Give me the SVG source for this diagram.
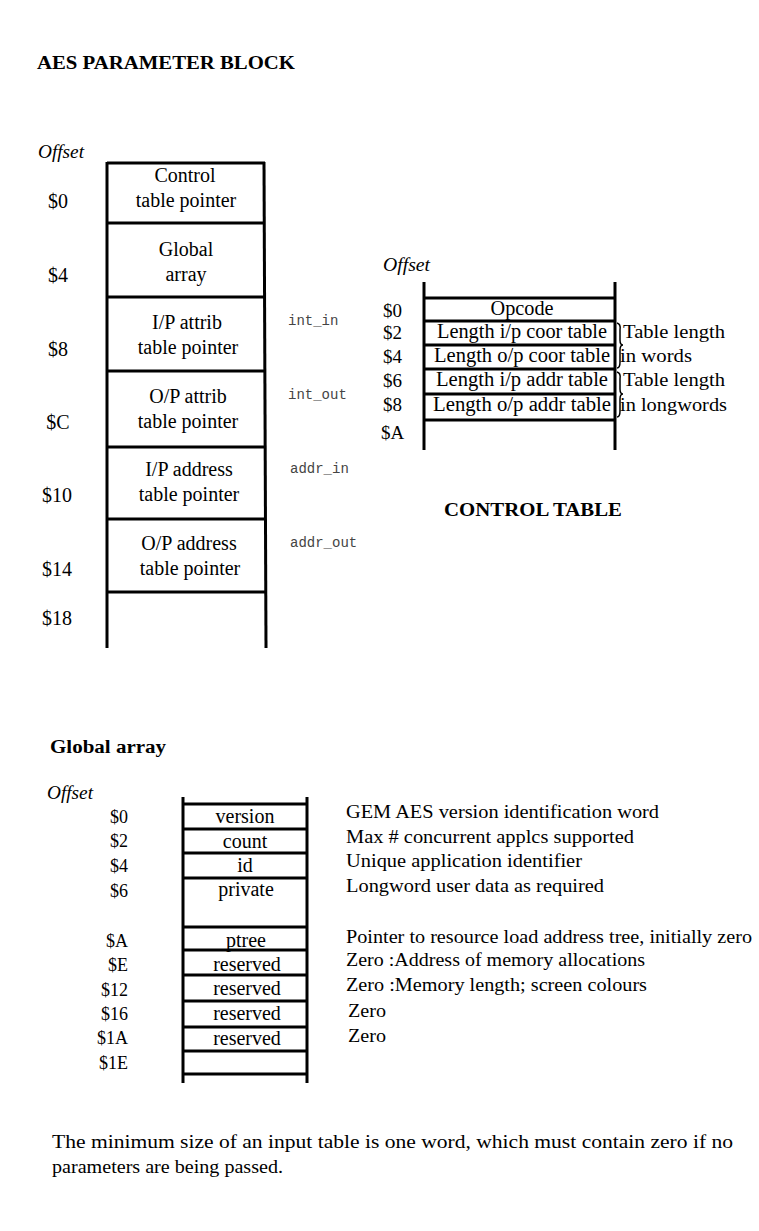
<svg xmlns="http://www.w3.org/2000/svg" width="759" height="1231" viewBox="0 0 759 1231">
<style>
text{font-family:"Liberation Serif","Times New Roman",serif;fill:#000}
.t{font-size:18px}
.c{font-size:20px;text-anchor:middle}
.b{font-size:18px;font-weight:bold}
.i{font-size:19px;font-style:italic}
.o{font-size:20px;text-anchor:middle}
.co{font-size:19px}
.r{font-size:18px;text-anchor:end}
.m{font-family:"Liberation Mono","DejaVu Sans Mono",monospace;font-size:14px;fill:#444}
.ln{stroke:#000;stroke-width:3;fill:none}
.br{stroke:#000;stroke-width:1.5;fill:none}
</style>
<rect width="759" height="1231" fill="#fff"/>
<text class="b" x="37" y="69" textLength="258" lengthAdjust="spacingAndGlyphs">AES PARAMETER BLOCK</text>

<g id="aes-block">
<text class="i" x="38" y="158" textLength="46" lengthAdjust="spacingAndGlyphs">Offset</text>
<g class="ln">
<line x1="107" y1="162" x2="107" y2="648"/>
<line x1="264" y1="162" x2="266" y2="648"/>
<line x1="107" y1="163" x2="265" y2="163"/>
<line x1="107" y1="223" x2="265" y2="223"/>
<line x1="107" y1="297" x2="265" y2="297"/>
<line x1="107" y1="371" x2="265" y2="371"/>
<line x1="107" y1="447" x2="266" y2="447"/>
<line x1="107" y1="519" x2="266" y2="519"/>
<line x1="107" y1="592" x2="266" y2="592"/>
</g>
<g id="aes-offsets">
<text class="o" x="58" y="208">$0</text>
<text class="o" x="58" y="282">$4</text>
<text class="o" x="58" y="356">$8</text>
<text class="o" x="58" y="429">$C</text>
<text class="o" x="57" y="502">$10</text>
<text class="o" x="57" y="576">$14</text>
<text class="o" x="57" y="625">$18</text>
</g>
<g id="aes-control"><text class="c" x="185" y="182">Control</text><text class="c" x="186" y="207">table pointer</text></g>
<g id="aes-global"><text class="c" x="186" y="256">Global</text><text class="c" x="186" y="281">array</text></g>
<g id="aes-ipattrib"><text class="c" x="187" y="329">I/P attrib</text><text class="c" x="188" y="354">table pointer</text></g>
<g id="aes-opattrib"><text class="c" x="188" y="403">O/P attrib</text><text class="c" x="188" y="428">table pointer</text></g>
<g id="aes-ipaddr"><text class="c" x="189" y="476">I/P address</text><text class="c" x="189" y="501">table pointer</text></g>
<g id="aes-opaddr"><text class="c" x="189" y="550">O/P address</text><text class="c" x="190" y="575">table pointer</text></g>
<g id="aes-labels">
<text class="m" x="288" y="325">int_in</text>
<text class="m" x="288" y="399">int_out</text>
<text class="m" x="290" y="473">addr_in</text>
<text class="m" x="290" y="547">addr_out</text>
</g>
</g>

<g id="control-table">
<text class="i" x="383" y="271" textLength="47" lengthAdjust="spacingAndGlyphs">Offset</text>
<g class="ln">
<line x1="424" y1="282" x2="424" y2="450"/>
<line x1="615" y1="282" x2="615" y2="450"/>
<line x1="424" y1="298" x2="615" y2="298"/>
<line x1="424" y1="321" x2="615" y2="321"/>
<line x1="424" y1="345" x2="615" y2="345"/>
<line x1="424" y1="369" x2="615" y2="369"/>
<line x1="424" y1="394" x2="615" y2="394"/>
<line x1="424" y1="420" x2="615" y2="420"/>
</g>
<g id="ct-offsets">
<text class="co" x="383" y="317">$0</text>
<text class="co" x="383" y="339">$2</text>
<text class="co" x="383" y="363">$4</text>
<text class="co" x="383" y="387">$6</text>
<text class="co" x="383" y="411">$8</text>
<text class="co" x="381" y="439">$A</text>
</g>
<text class="c" x="522" y="315" textLength="63" lengthAdjust="spacingAndGlyphs">Opcode</text>
<text class="c" x="522" y="338" textLength="170" lengthAdjust="spacingAndGlyphs">Length i/p coor table</text>
<text class="c" x="522" y="362" textLength="176" lengthAdjust="spacingAndGlyphs">Length o/p coor table</text>
<text class="c" x="522" y="386" textLength="172" lengthAdjust="spacingAndGlyphs">Length i/p addr table</text>
<text class="c" x="522" y="411" textLength="178" lengthAdjust="spacingAndGlyphs">Length o/p addr table</text>
<g class="br">
<path d="M617,323 Q621,324 620,330 L620,340 Q620,345 623,345 Q620,345 620,350 L620,362 Q620,368 617,368"/>
<path d="M617,372 Q621,373 620,379 L620,389 Q620,394 623,394 Q620,394 620,399 L620,411 Q620,417 617,417"/>
</g>
<text class="t" x="623" y="338" textLength="102" lengthAdjust="spacingAndGlyphs">Table length</text>
<text class="t" x="620" y="362" textLength="72" lengthAdjust="spacingAndGlyphs">in words</text>
<text class="t" x="623" y="386" textLength="102" lengthAdjust="spacingAndGlyphs">Table length</text>
<text class="t" x="620" y="411" textLength="107" lengthAdjust="spacingAndGlyphs">in longwords</text>
<text class="b" x="444" y="516" textLength="178" lengthAdjust="spacingAndGlyphs">CONTROL TABLE</text>
</g>

<text class="b" x="50" y="753" textLength="116" lengthAdjust="spacingAndGlyphs">Global array</text>

<g id="global-array">
<text class="i" x="47" y="799" textLength="46" lengthAdjust="spacingAndGlyphs">Offset</text>
<g class="ln">
<line x1="183" y1="797" x2="183" y2="1083"/>
<line x1="307" y1="797" x2="307" y2="1083"/>
<line x1="183" y1="804" x2="307" y2="804"/>
<line x1="183" y1="829" x2="307" y2="829"/>
<line x1="183" y1="853" x2="307" y2="853"/>
<line x1="183" y1="878" x2="307" y2="878"/>
<line x1="183" y1="927" x2="307" y2="927"/>
<line x1="183" y1="950" x2="307" y2="950"/>
<line x1="183" y1="975" x2="307" y2="975"/>
<line x1="183" y1="1001" x2="307" y2="1001"/>
<line x1="183" y1="1027" x2="307" y2="1027"/>
<line x1="183" y1="1051" x2="307" y2="1051"/>
<line x1="183" y1="1074" x2="307" y2="1074"/>
</g>
<g id="ga-offsets">
<text class="r" x="128" y="823">$0</text>
<text class="r" x="128" y="847">$2</text>
<text class="r" x="128" y="872">$4</text>
<text class="r" x="128" y="897">$6</text>
<text class="r" x="128" y="947">$A</text>
<text class="r" x="128" y="971">$E</text>
<text class="r" x="128" y="996">$12</text>
<text class="r" x="128" y="1020">$16</text>
<text class="r" x="128" y="1044">$1A</text>
<text class="r" x="128" y="1069">$1E</text>
</g>
<g id="ga-fields">
<text class="c" x="245" y="823">version</text>
<text class="c" x="245" y="848">count</text>
<text class="c" x="245" y="872">id</text>
<text class="c" x="246" y="896">private</text>
<text class="c" x="246" y="947">ptree</text>
<text class="c" x="247" y="971">reserved</text>
<text class="c" x="247" y="995">reserved</text>
<text class="c" x="247" y="1020">reserved</text>
<text class="c" x="247" y="1045">reserved</text>
</g>
<g id="ga-desc">
<text class="t" x="346" y="818" textLength="313" lengthAdjust="spacingAndGlyphs">GEM AES version identification word</text>
<text class="t" x="346" y="843" textLength="288" lengthAdjust="spacingAndGlyphs">Max # concurrent applcs supported</text>
<text class="t" x="346" y="867" textLength="236" lengthAdjust="spacingAndGlyphs">Unique application identifier</text>
<text class="t" x="346" y="892" textLength="258" lengthAdjust="spacingAndGlyphs">Longword user data as required</text>
<text class="t" x="346" y="943" textLength="406" lengthAdjust="spacingAndGlyphs">Pointer to resource load address tree, initially zero</text>
<text class="t" x="346" y="966" textLength="299" lengthAdjust="spacingAndGlyphs">Zero :Address of memory allocations</text>
<text class="t" x="346" y="991" textLength="301" lengthAdjust="spacingAndGlyphs">Zero :Memory length; screen colours</text>
<text class="t" x="348" y="1017" textLength="38" lengthAdjust="spacingAndGlyphs">Zero</text>
<text class="t" x="348" y="1042" textLength="38" lengthAdjust="spacingAndGlyphs">Zero</text>
</g>
</g>

<text class="t" x="52" y="1148" textLength="681" lengthAdjust="spacingAndGlyphs">The minimum size of an input table is one word, which must contain zero if no</text>
<text class="t" x="52" y="1173" textLength="231" lengthAdjust="spacingAndGlyphs">parameters are being passed.</text>
</svg>
